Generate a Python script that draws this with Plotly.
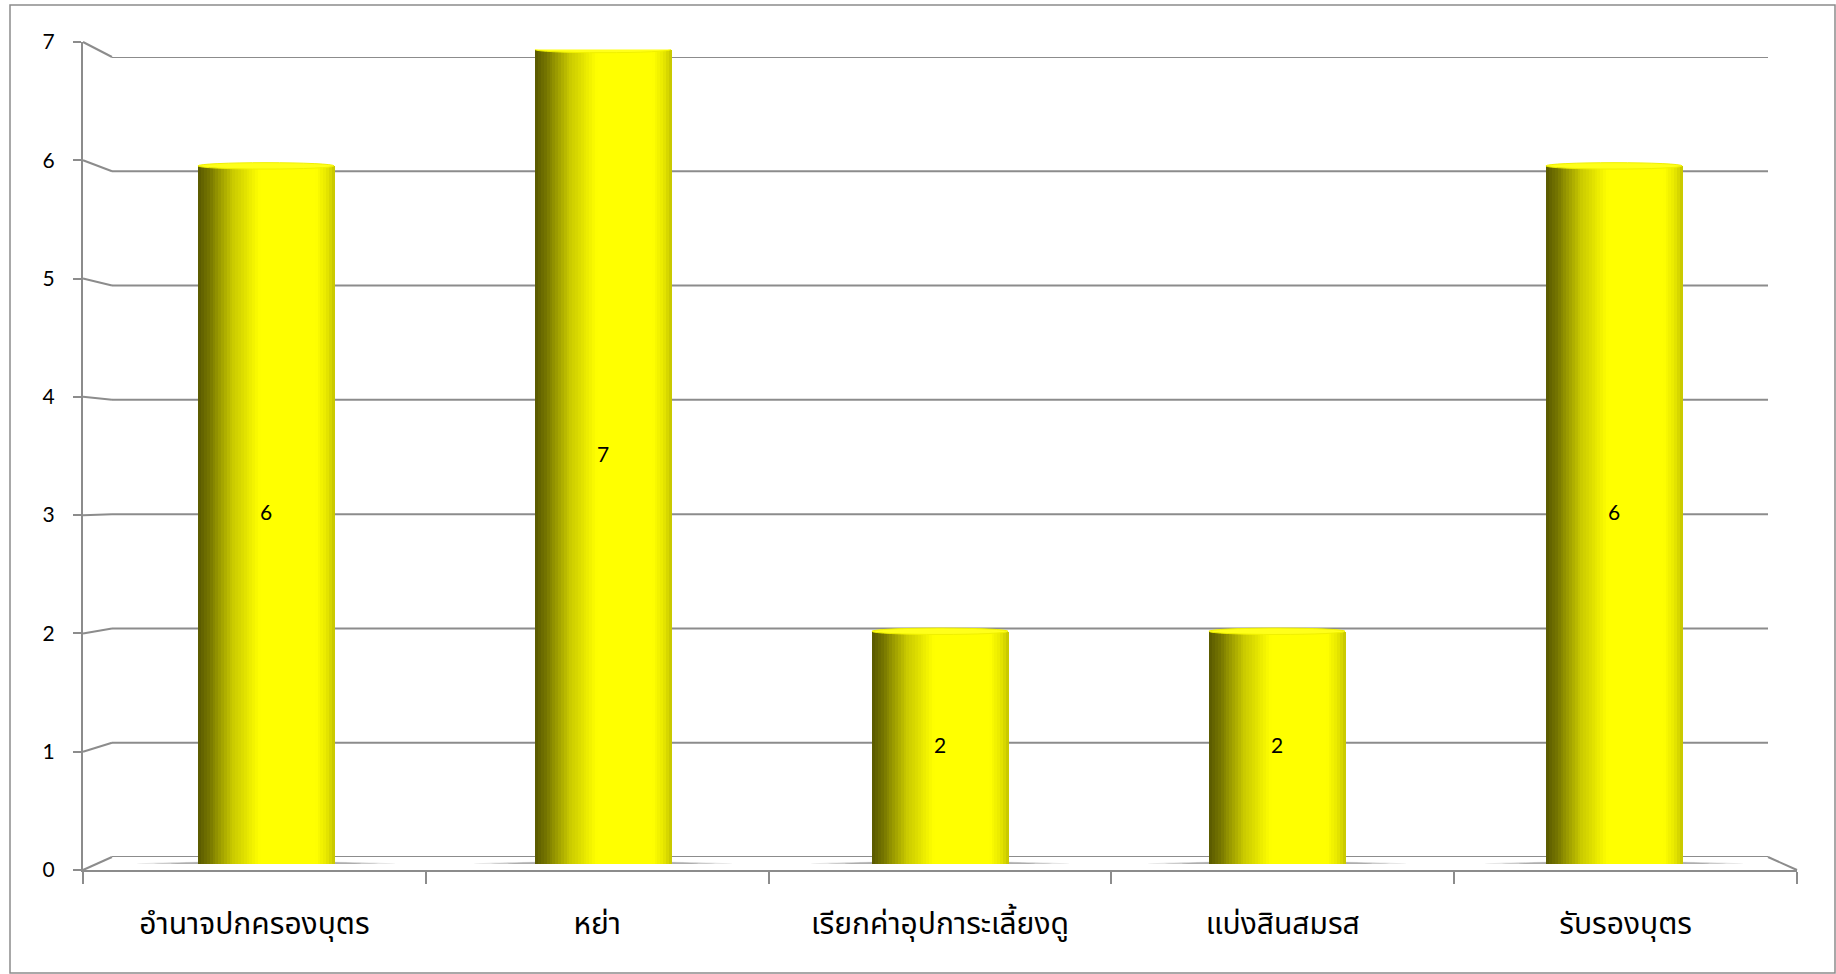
import plotly.graph_objects as go

# ---- data ----
categories = ["อำนาจปกครองบุตร", "หย่า", "เรียกค่าอุปการะเลี้ยงดู", "แบ่งสินสมรส", "รับรองบุตร"]
values = [6, 7, 2, 2, 6]
y_ticks = [0, 1, 2, 3, 4, 5, 6, 7]

W, H = 1836, 974
def px(x): return x / W
def py(y): return 1 - y / H

# geometry (pixels)
FRONT_X0, FRONT_X1, FRONT_Y0, FRONT_Y7 = 83, 1797, 870, 42
BACK_X0, BACK_X1, BACK_Y0, BACK_Y7 = 112, 1768, 857, 57
MID_X0, MID_X1 = (FRONT_X0 + BACK_X0) / 2, (FRONT_X1 + BACK_X1) / 2
MID_Y0, MID_Y7 = (FRONT_Y0 + BACK_Y0) / 2 + 0.5, (FRONT_Y7 + BACK_Y7) / 2
YMAX = 7
GRID = "#8c8c8c"

idx = list(range(len(categories)))
BAR_W = 0.404
N = 48
stops = [(0.0, (88, 88, 0)), (0.08, (118, 118, 0)), (0.25, (200, 200, 0)),
         (0.45, (255, 255, 0)), (0.86, (255, 255, 0)), (0.94, (232, 232, 0)), (1.0, (196, 196, 0))]

def col(t):
    for (t0, c0), (t1, c1) in zip(stops[:-1], stops[1:]):
        if t0 <= t <= t1:
            f = (t - t0) / (t1 - t0) if t1 > t0 else 0
            c = [round(a + (b - a) * f) for a, b in zip(c0, c1)]
            return f"rgb({c[0]},{c[1]},{c[2]})"
    return "rgb(255,255,0)"

fig = go.Figure()

# invisible traces so the helper axes exist
fig.add_trace(go.Scatter(x=[0], y=[0], mode="markers", marker=dict(opacity=0),
                         xaxis="x2", yaxis="y2", showlegend=False, hoverinfo="skip"))
fig.add_trace(go.Scatter(x=categories, y=[0] * len(categories), mode="markers",
                         marker=dict(opacity=0), xaxis="x3", yaxis="y3",
                         showlegend=False, hoverinfo="skip"))

sw = BAR_W / N
for i in range(N):
    t = (i + 0.5) / N
    fig.add_trace(go.Bar(
        x=idx, y=values, width=sw * 1.25, offset=-BAR_W / 2 + i * sw,
        marker=dict(color=col(t), line=dict(width=0)),
        xaxis="x", yaxis="y", hoverinfo="skip", showlegend=False))

# data labels
fig.add_trace(go.Scatter(
    x=idx, y=[v / 2 for v in values], mode="text", text=[str(v) for v in values],
    textfont=dict(size=21, color="black", family="Lato, Open Sans, sans-serif"),
    xaxis="x", yaxis="y", showlegend=False, hoverinfo="skip"))

shapes = []
# frame
shapes.append(dict(type="rect", xref="paper", yref="paper", x0=px(10), x1=px(1835),
                   y0=py(973), y1=py(5), line=dict(color=GRID, width=1.5), layer="below"))

# back-wall gridlines on the y2 scale
for v in y_ticks:
    shapes.append(dict(type="line", xref="x2 domain", yref="y2", x0=0, x1=1, y0=v, y1=v,
                       line=dict(color=GRID, width=2), layer="below"))

# connectors from front y-axis ticks to back wall gridlines
def yf(v): return FRONT_Y0 + (FRONT_Y7 - FRONT_Y0) * v / YMAX
def yb(v): return BACK_Y0 + (BACK_Y7 - BACK_Y0) * v / YMAX
for v in y_ticks:
    shapes.append(dict(type="line", xref="paper", yref="paper",
                       x0=px(FRONT_X0), y0=py(yf(v)), x1=px(BACK_X0), y1=py(yb(v)),
                       line=dict(color=GRID, width=2), layer="below"))
shapes.append(dict(type="line", xref="paper", yref="paper",
                   x0=px(FRONT_X1), y0=py(yf(0)), x1=px(BACK_X1), y1=py(yb(0)),
                   line=dict(color=GRID, width=2), layer="below"))

# caps and floor shadows for each bar
cap_h = 3.2 * YMAX / (MID_Y0 - MID_Y7)
for i, v in zip(idx, values):
    for k, (sc, a) in enumerate([(0.95, 0.18), (0.82, 0.25), (0.7, 0.35)]):
        shapes.append(dict(type="circle", xref="x", yref="y",
                           x0=i - BAR_W * sc, x1=i + BAR_W * sc, y0=-cap_h * 0.8, y1=cap_h * 0.8,
                           fillcolor=f"rgba(120,120,120,{a})", line=dict(width=0), layer="below"))
    shapes.append(dict(type="circle", xref="x", yref="y",
                       x0=i - BAR_W / 2, x1=i + BAR_W / 2, y0=v - cap_h, y1=v + cap_h,
                       fillcolor="#ffff1a", line=dict(color="#f0f000", width=1), layer="above"))

fig.update_layout(
    width=W, height=H, autosize=False,
    margin=dict(l=0, r=0, t=0, b=0, pad=0),
    paper_bgcolor="white", plot_bgcolor="rgba(0,0,0,0)",
    barmode="overlay", bargap=0,
    shapes=shapes,
    xaxis=dict(domain=[px(MID_X0), px(MID_X1)], range=[-0.5, 4.5], visible=False, fixedrange=True),
    yaxis=dict(domain=[py(MID_Y0), py(MID_Y7)], range=[0, YMAX], visible=False, fixedrange=True),
    xaxis2=dict(domain=[px(BACK_X0), px(BACK_X1)], range=[-0.5, 4.5], visible=False, anchor="y2"),
    yaxis2=dict(domain=[py(BACK_Y0), py(BACK_Y7)], range=[0, YMAX], anchor="x2", visible=False),
    xaxis3=dict(domain=[px(FRONT_X0), px(FRONT_X1)], anchor="y3", type="category",
                categoryarray=categories, range=[-0.5, 4.5], tickson="boundaries",
                ticks="outside", ticklen=12, tickcolor=GRID, tickwidth=2,
                showline=True, linecolor=GRID, linewidth=2,
                showgrid=False, zeroline=False, ticklabelstandoff=26, automargin=False,
                tickfont=dict(size=30, color="black", family="Noto Sans Thai, Noto Sans, sans-serif")),
    yaxis3=dict(domain=[py(FRONT_Y0), py(FRONT_Y7)], range=[0, YMAX], anchor="x3",
                tickvals=y_ticks, ticks="outside", ticklen=8, tickcolor=GRID, tickwidth=2,
                showline=True, linecolor=GRID, linewidth=2, showgrid=False, zeroline=False,
                ticklabelstandoff=14, automargin=False,
                tickfont=dict(size=21, color="black", family="Lato, Open Sans, sans-serif")),
)

fig.write_html("out.html", config={"displayModeBar": False},
               post_script="document.body.style.margin='0';document.body.style.padding='0';"
                           "document.body.style.overflow='hidden';")
